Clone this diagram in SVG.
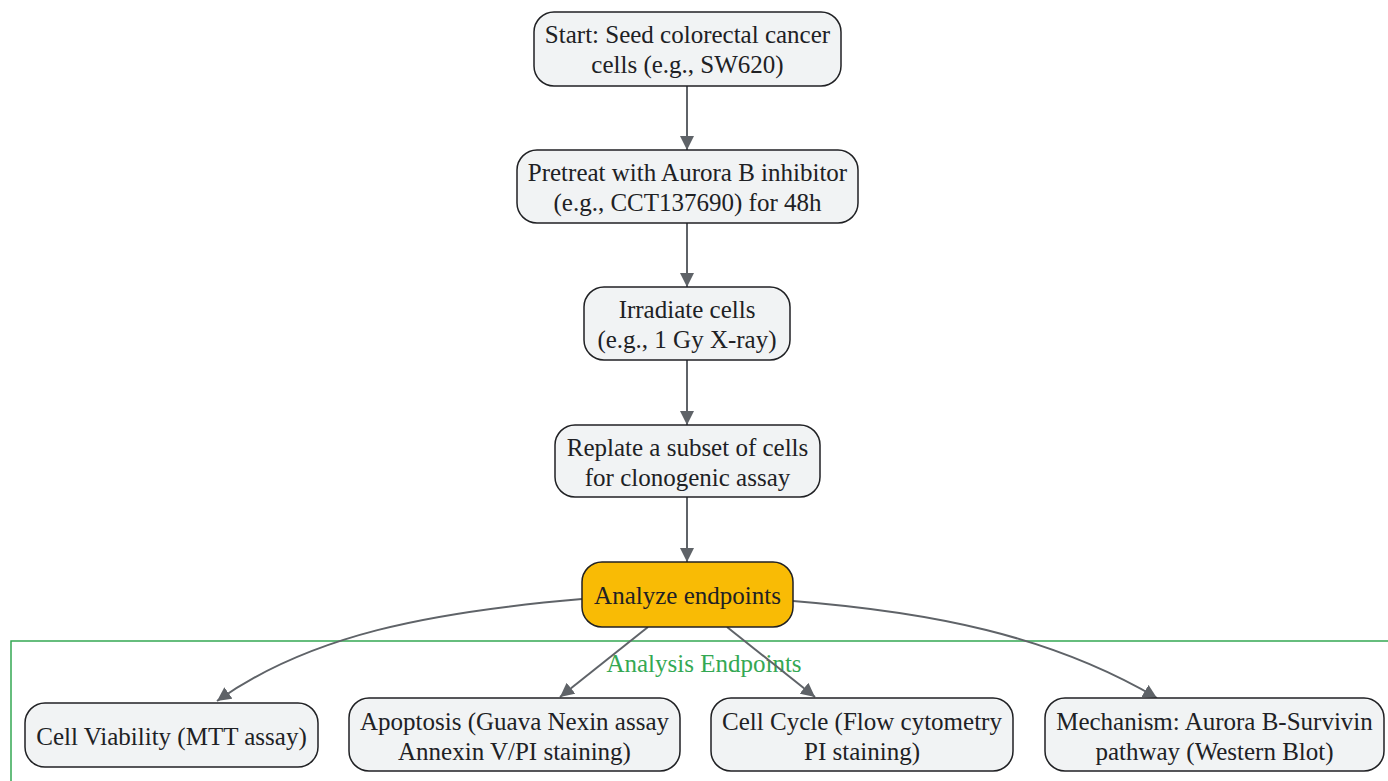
<svg xmlns="http://www.w3.org/2000/svg" width="1388" height="781" viewBox="0 0 1388 781">
<defs>
<marker id="arr" viewBox="0 0 10 10" refX="10" refY="5" markerWidth="14" markerHeight="14" markerUnits="userSpaceOnUse" orient="auto">
<path d="M0,0 L10,5 L0,10 z" fill="#5f6368"/>
</marker>
<style>
.n{fill:#f1f3f4;stroke:#202124;stroke-width:1.5}
.hl{fill:#f9bb05;stroke:#202124;stroke-width:1.5}
.t{font-size:25px;fill:#202124;text-anchor:middle}
.e{fill:none;stroke:#5f6368;stroke-width:2;marker-end:url(#arr)}
.cl{fill:none;stroke:#34a853;stroke-width:1.5}
.ct{font-size:25px;fill:#34a853;text-anchor:middle}
</style>
</defs>
<rect width="1388" height="781" fill="#ffffff"/>
<g font-family="'Liberation Serif', 'Times New Roman', serif">
<g id="cluster">
<path class="cl" d="M11,781 L11,641 L1390,641"/>
<text class="ct" x="704" y="672">Analysis Endpoints</text>
</g>
<g id="edges">
<path class="e" d="M687,86 L687,150"/>
<path class="e" d="M687,223 L687,287"/>
<path class="e" d="M687,360 L687,425"/>
<path class="e" d="M687,497 L687,562"/>
<path class="e" d="M582,599 C430,612 310,635 217,701"/>
<path class="e" d="M648,627 L560,697"/>
<path class="e" d="M727,627 L815,697"/>
<path class="e" d="M793,601 C930,612 1050,635 1157,698"/>
</g>
<g id="n1">
<rect class="n" x="534" y="12" width="307" height="74" rx="20"/>
<text class="t" x="687.5" y="43">Start: Seed colorectal cancer</text>
<text class="t" x="687.5" y="73">cells (e.g., SW620)</text>
</g>
<g id="n2">
<rect class="n" x="517" y="150" width="341" height="73" rx="20"/>
<text class="t" x="687.5" y="181">Pretreat with Aurora B inhibitor</text>
<text class="t" x="687.5" y="211">(e.g., CCT137690) for 48h</text>
</g>
<g id="n3">
<rect class="n" x="584" y="287" width="206" height="73" rx="20"/>
<text class="t" x="687" y="318">Irradiate cells</text>
<text class="t" x="687" y="348">(e.g., 1 Gy X-ray)</text>
</g>
<g id="n4">
<rect class="n" x="555" y="425" width="265" height="72" rx="20"/>
<text class="t" x="687.5" y="456">Replate a subset of cells</text>
<text class="t" x="687.5" y="486">for clonogenic assay</text>
</g>
<g id="n5">
<rect class="hl" x="582" y="562" width="211" height="65" rx="20"/>
<text class="t" x="687.5" y="604">Analyze endpoints</text>
</g>
<g id="n6">
<rect class="n" x="25" y="703" width="293" height="64" rx="20"/>
<text class="t" x="171.5" y="745">Cell Viability (MTT assay)</text>
</g>
<g id="n7">
<rect class="n" x="349" y="698" width="331" height="73" rx="20"/>
<text class="t" x="514.5" y="730">Apoptosis (Guava Nexin assay</text>
<text class="t" x="514.5" y="760">Annexin V/PI staining)</text>
</g>
<g id="n8">
<rect class="n" x="711" y="698" width="302" height="73" rx="20"/>
<text class="t" x="862" y="730">Cell Cycle (Flow cytometry</text>
<text class="t" x="862" y="760">PI staining)</text>
</g>
<g id="n9">
<rect class="n" x="1045" y="698" width="339" height="73" rx="20"/>
<text class="t" x="1214.5" y="730">Mechanism: Aurora B-Survivin</text>
<text class="t" x="1214.5" y="760">pathway (Western Blot)</text>
</g>
</g>
</svg>
